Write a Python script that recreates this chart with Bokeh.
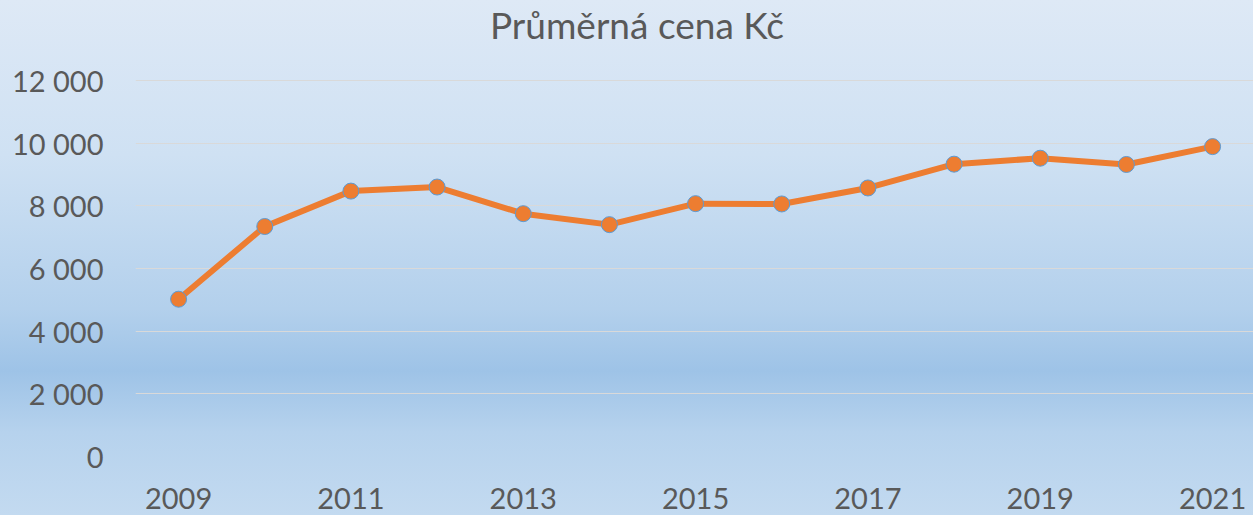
from bokeh.plotting import figure
from bokeh.embed import file_html
from bokeh.resources import INLINE
from bokeh.models import FixedTicker, Range1d, ColumnDataSource, Label

years = [2009, 2010, 2011, 2012, 2013, 2014, 2015, 2016, 2017, 2018, 2019, 2020, 2021]
prices = [5020, 7340, 8470, 8600, 7750, 7400, 8070, 8060, 8570, 9330, 9520, 9320, 9890]
x_ticks = [2009, 2011, 2013, 2015, 2017, 2019, 2021]
y_ticks = [0, 2000, 4000, 6000, 8000, 10000, 12000]
y_labels = ["0", "2 000", "4 000", "6 000", "8 000", "10 000", "12 000"]
title_text = "Průměrná cena Kč"

src = ColumnDataSource(dict(x=years, y=prices))

# frame spans full height above the axis; 12 000 gridline sits 80px from top
frame_h = 456
y_top = 12000 * frame_h / (frame_h - 80)

p = figure(width=1253, height=515, output_backend="svg", toolbar_location=None,
           x_range=Range1d(2008.5, 2021.475), y_range=Range1d(0, y_top),
           min_border_left=135, min_border_right=0, min_border_top=0, min_border_bottom=59)

p.styles = {"background-image": "linear-gradient(to bottom, #dee9f6 0%, #cfe1f3 30%, #b3d0ec 60%, #9ec3e7 72%, #b6d2ed 84%, #c3daf0 100%)"}
p.background_fill_alpha = 0
p.border_fill_alpha = 0
p.outline_line_color = None

p.add_layout(Label(x=501.5, y=432, x_units="screen", y_units="screen", text=title_text,
                   text_align="center", text_baseline="alphabetic", text_font="Lato",
                   text_font_size="37px", text_color="#595959"))

p.line("x", "y", source=src, line_color="#ed7d31", line_width=6)
p.scatter("x", "y", source=src, size=16, fill_color="#ed7d31", line_color="#5b9bd5", line_width=1)

p.xaxis.ticker = FixedTicker(ticks=x_ticks)
p.yaxis.ticker = FixedTicker(ticks=y_ticks)
p.yaxis.major_label_overrides = {t: l for t, l in zip(y_ticks, y_labels)}
for ax in (p.xaxis[0], p.yaxis[0]):
    ax.axis_line_color = None
    ax.major_tick_line_color = None
    ax.minor_tick_line_color = None
    ax.major_label_text_font = "Lato"
    ax.major_label_text_font_size = "29px"
    ax.major_label_text_color = "#595959"
p.yaxis.major_label_standoff = 26
p.xaxis.major_label_standoff = 25

p.xgrid.grid_line_color = None
p.ygrid.grid_line_color = "#d9d9d9"
p.ygrid.grid_line_width = 1.2

open("out.html", "w").write(file_html(p, INLINE))
